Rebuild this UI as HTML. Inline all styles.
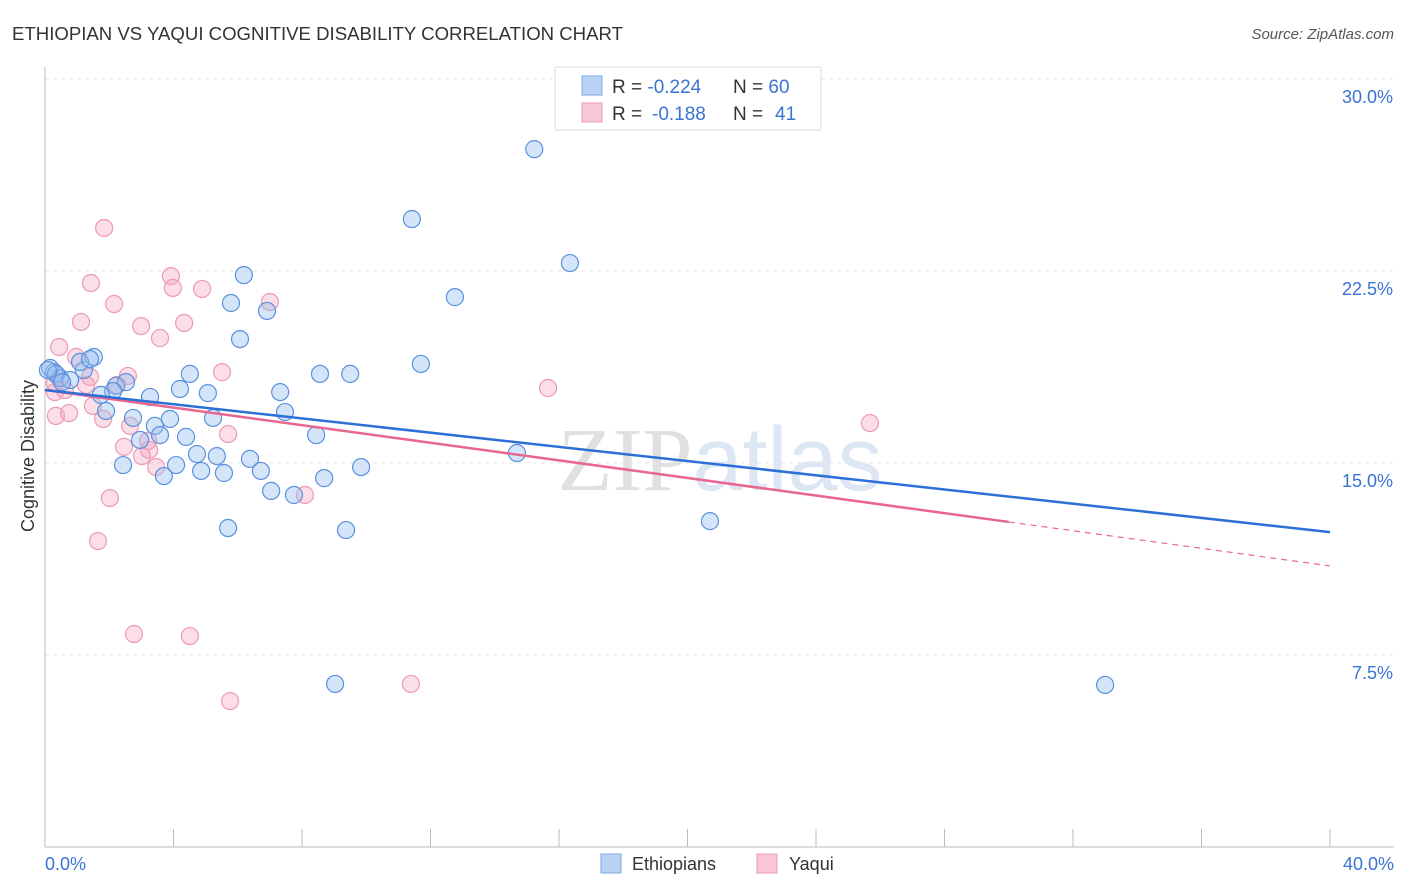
<!DOCTYPE html>
<html><head><meta charset="utf-8"><style>
body{margin:0;background:#fff;font-family:"Liberation Sans",sans-serif}
svg{display:block}
</style></head><body>
<svg id="chart" width="1406" height="892" xmlns="http://www.w3.org/2000/svg">
<text x="12" y="40" font-size="18.6" fill="#333">ETHIOPIAN VS YAQUI COGNITIVE DISABILITY CORRELATION CHART</text>
<text x="1394" y="39" font-size="15" fill="#555" font-style="italic" text-anchor="end">Source: ZipAtlas.com</text>
<text x="720" y="490" font-size="90" fill="#e0e0e0" text-anchor="middle" font-family="Liberation Serif,serif">ZIP<tspan fill="#dde6f4" font-family="Liberation Sans,sans-serif">atlas</tspan></text>
<g id="grid"></g>
<line x1="45" y1="67" x2="45" y2="847" stroke="#bbb"/>
<line x1="45" y1="847" x2="1394" y2="847" stroke="#bbb"/>
<text transform="translate(34,456) rotate(-90)" font-size="18" fill="#333" text-anchor="middle">Cognitive Disability</text>
<text x="45" y="870" font-size="18" fill="#3b73d4">0.0%</text>
<text x="1394" y="870" font-size="18" fill="#3b73d4" text-anchor="end">40.0%</text>
<g id="points"></g>
<g id="lines"></g>
<g>
<rect x="555" y="67" width="266" height="63" fill="#fff" stroke="#ddd"/>
<rect x="582" y="76" width="20" height="19" fill="#b9d3f5" stroke="#7fa9e6"/>
<rect x="582" y="103" width="20" height="19" fill="#f9c6d6" stroke="#ec9ab3"/>
<text x="612" y="93" font-size="19" fill="#333">R = <tspan fill="#3b73d4">-0.224</tspan><tspan x="733">N = </tspan><tspan fill="#3b73d4">60</tspan></text>
<text x="612" y="120" font-size="19" fill="#333">R = <tspan fill="#3b73d4" x="652">-0.188</tspan><tspan x="733">N = </tspan><tspan fill="#3b73d4" x="775">41</tspan></text>
</g>
<g>
<rect x="601" y="854" width="20" height="19" fill="#b9d3f5" stroke="#7fa9e6"/>
<text x="632" y="870" font-size="18" fill="#333">Ethiopians</text>
<rect x="757" y="854" width="20" height="19" fill="#f9c6d6" stroke="#ec9ab3"/>
<text x="789" y="870" font-size="18" fill="#333">Yaqui</text>
</g>
</svg>
<script>
const yTicks=[7.5,15,22.5,30];
const yTickLabels=["7.5%","15.0%","22.5%","30.0%"];
const xTicks=[0,4,8,12,16,20,24,28,32,36,40];
const ethX=[15.23,11.42,16.34,12.76,6.19,5.79,6.91,6.07,11.70,8.56,9.50,4.51,4.20,5.07,7.32,1.52,1.21,1.09,0.28,0.47,0.78,0.16,2.21,2.52,3.27,2.12,1.74,1.90,2.74,3.42,3.89,3.58,4.39,5.23,7.47,8.44,4.73,5.35,6.38,4.08,4.86,6.72,3.70,5.57,2.43,2.96,7.04,7.75,8.69,9.84,14.69,5.70,9.37,20.70,9.03,33.00,0.34,0.09,0.53,1.40];
const ethY=[27.26,24.53,22.81,21.48,22.34,21.25,20.94,19.84,18.87,18.48,18.48,18.48,17.89,17.73,17.77,19.14,18.63,18.95,18.55,18.32,18.24,18.71,18.01,18.16,17.58,17.81,17.66,17.03,16.76,16.45,16.72,16.09,16.02,16.76,16.99,16.09,15.35,15.27,15.16,14.92,14.69,14.69,14.49,14.61,14.92,15.90,13.91,13.75,14.41,14.84,15.39,12.46,12.38,12.73,6.37,6.33,18.48,18.63,18.16,19.06];
const yaqX=[1.84,1.43,3.92,3.98,4.89,7.00,2.15,1.12,2.99,4.33,3.58,0.44,0.97,5.51,2.58,2.24,1.28,0.62,0.31,15.66,1.49,0.75,0.34,1.81,2.65,2.46,3.21,3.02,3.46,5.70,25.68,2.02,8.09,1.65,2.77,4.51,5.76,11.39,1.40,0.31,3.24];
const yaqY=[24.18,22.03,22.30,21.84,21.80,21.29,21.21,20.51,20.35,20.47,19.88,19.53,19.14,18.55,18.40,18.05,18.05,17.85,17.77,17.93,17.23,16.95,16.84,16.72,16.45,15.63,15.86,15.27,14.84,16.13,16.56,13.63,13.75,11.95,8.32,8.24,5.70,6.37,18.36,18.13,15.51];
const ethTrend=[17.85,12.30];
const yaqTrend=[17.85,10.98];
const yaqSolidEnd=30;
const X=v=>45+v/40*1285, Y=v=>847-v/7.5*192;
const NS="http://www.w3.org/2000/svg";
function mk(t,a,p){const e=document.createElementNS(NS,t);for(const k in a)e.setAttribute(k,a[k]);p.appendChild(e);return e;}
const grid=document.getElementById('grid');
yTicks.forEach((t,i)=>{
 const l=mk('line',{x1:45,x2:1394,y1:Y(t),y2:Y(t),stroke:'#e6e6e6','stroke-dasharray':'4,4'},grid);
 
 
 const tx=mk('text',{x:1393,y:Y(t)+24,'font-size':18,fill:'#3b73d4','text-anchor':'end'},grid);
 tx.textContent=yTickLabels[i];
 
 
});
xTicks.forEach(t=>{
 const l=mk('line',{x1:X(t),x2:X(t),y1:829,y2:847,stroke:'#bbb'},grid);
 
 
});
const pts=document.getElementById('points');
yaqX.forEach((x,i)=>{
 const c=mk('circle',{cx:X(x),cy:Y(yaqY[i]),r:8.5,fill:'rgba(244,160,188,0.35)',stroke:'#ec9ab3','stroke-width':1.2},pts);
 
 
});
ethX.forEach((x,i)=>{
 const c=mk('circle',{cx:X(x),cy:Y(ethY[i]),r:8.5,fill:'rgba(150,190,240,0.4)',stroke:'#5b90dd','stroke-width':1.2},pts);
 
 
});
const ln=document.getElementById('lines');
const yq=v=>yaqTrend[0]+(yaqTrend[1]-yaqTrend[0])*v/40;
let a=mk('line',{x1:X(0),y1:Y(yaqTrend[0]),x2:X(yaqSolidEnd),y2:Y(yq(yaqSolidEnd)),stroke:'#e8668f','stroke-width':2.5},ln);


a=mk('line',{x1:X(yaqSolidEnd),y1:Y(yq(yaqSolidEnd)),x2:X(40),y2:Y(yaqTrend[1]),stroke:'#e8668f','stroke-width':1.2,'stroke-dasharray':'6,5'},ln);


a=mk('line',{x1:X(0),y1:Y(ethTrend[0]),x2:X(40),y2:Y(ethTrend[1]),stroke:'#2c6fd6','stroke-width':2.5},ln);


</script>
</body></html>
